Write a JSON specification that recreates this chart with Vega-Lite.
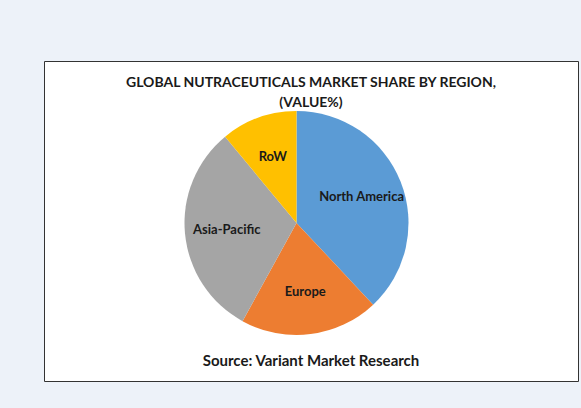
{
  "$schema": "https://vega.github.io/schema/vega-lite/v6.json",
  "width": 581,
  "height": 408,
  "autosize": {"type": "fit", "contains": "padding"},
  "padding": {"left": 44, "top": 61, "right": 3, "bottom": 27},
  "background": "#EDF2F9",
  "view": {"stroke": "#333333", "strokeWidth": 1, "fill": "white"},
  "title": {
    "text": ["GLOBAL NUTRACEUTICALS MARKET SHARE BY REGION,", "(VALUE%)"],
    "subtitle": "Source: Variant Market Research",
    "anchor": "middle",
    "frame": "group",
    "font": "Lato",
    "fontSize": 14,
    "fontWeight": "bold",
    "color": "#1a1a1a",
    "lineHeight": 20,
    "subtitleFont": "Lato",
    "subtitleFontSize": 15,
    "subtitleFontWeight": "bold",
    "subtitleColor": "#1a1a1a",
    "subtitlePadding": 244,
    "offset": -308
  },
  "data": {
    "values": [
      {"region": "North America", "share": 38, "rank": 1},
      {"region": "Europe", "share": 20, "rank": 2},
      {"region": "Asia-Pacific", "share": 31, "rank": 3},
      {"region": "RoW", "share": 11, "rank": 4}
    ]
  },
  "encoding": {
    "theta": {"field": "share", "type": "quantitative", "stack": true},
    "order": {"field": "rank", "type": "quantitative"}
  },
  "layer": [
    {
      "mark": {"type": "arc", "radius": 112, "xOffset": -14.5, "yOffset": 2},
      "encoding": {
        "color": {
          "field": "region",
          "type": "nominal",
          "scale": {
            "domain": ["North America", "Europe", "Asia-Pacific", "RoW"],
            "range": ["#5B9BD5", "#ED7D31", "#A5A5A5", "#FFC000"]
          },
          "legend": null
        }
      }
    },
    {
      "mark": {"type": "text", "radius": 70, "xOffset": -14.5, "yOffset": 2, "font": "Lato", "fontSize": 13, "fontWeight": "bold", "color": "#1a1a1a"},
      "encoding": {"text": {"field": "region", "type": "nominal"}}
    }
  ]
}
